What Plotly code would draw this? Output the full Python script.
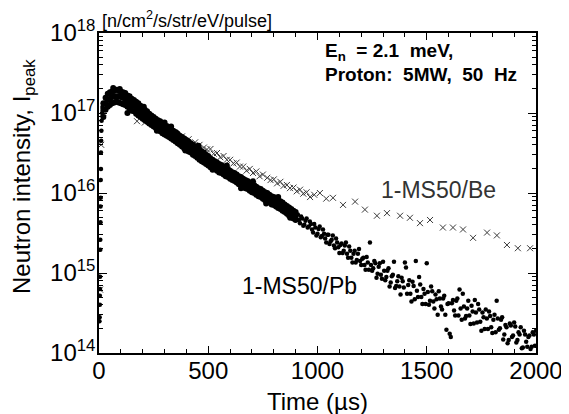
import plotly.graph_objects as go

# ---------------- data ----------------
# 1-MS50/Pb : rising edge
pb_edge_time = [2, 3, 4, 4, 5, 5, 6, 6, 7, 7, 8, 8, 9, 9, 10, 11, 12, 14, 16]
pb_edge = [2.5e14, 2.8e14, 4.0e14, 5.2e14, 6.3e14, 9.0e14, 1.95e15, 2.6e15, 4.3e15, 6.8e15,
           8.7e15, 1.45e16, 2.0e16, 3.2e16, 4.5e16, 6.0e16, 8.0e16, 1.0e17, 1.2e17]

# 1-MS50/Pb : dense band (upper edge, middle, lower edge of the band)
pb_band_time = [20, 30, 40, 50, 60, 70, 80, 90, 100, 110, 120, 130, 140, 150, 160, 170, 180, 190, 200,
                210, 220, 230, 240, 250, 260, 270, 280, 290, 300, 310, 320, 330, 340, 350, 360, 370, 380,
                390, 400, 410, 420, 430, 440, 450, 460, 470, 480, 490, 500, 510, 520, 530, 540, 550, 560,
                570, 580, 590, 600, 610, 620, 630, 640, 650, 660, 670, 680, 690, 700, 710, 720, 730, 740,
                750, 760, 770, 780, 790, 800, 810, 820, 830, 840, 850, 860, 870, 880, 890, 900]
pb_band_upper = [1.32e17, 1.55e17, 1.74e17, 1.82e17, 1.86e17, 1.91e17, 1.95e17, 1.91e17, 1.86e17, 1.82e17,
                 1.78e17, 1.66e17, 1.62e17, 1.51e17, 1.45e17, 1.38e17, 1.32e17, 1.23e17, 1.17e17,
                 1.10e17, 1.05e17, 9.8e16, 9.3e16, 8.9e16, 8.5e16, 8.1e16, 7.9e16, 7.4e16, 7.6e16,
                 6.9e16, 6.6e16, 6.3e16, 6.0e16, 5.8e16, 5.5e16, 5.2e16, 5.0e16, 4.8e16, 4.6e16,
                 4.4e16, 4.2e16, 4.0e16, 3.8e16, 3.6e16, 3.5e16, 3.3e16, 3.2e16, 3.0e16, 2.9e16,
                 2.7e16, 2.6e16, 2.5e16, 2.4e16, 2.3e16, 2.24e16, 2.14e16, 2.04e16, 2.0e16, 1.9e16,
                 1.82e16, 1.78e16, 1.70e16, 1.62e16, 1.58e16, 1.51e16, 1.45e16, 1.41e16, 1.35e16, 1.29e16,
                 1.26e16, 1.20e16, 1.15e16, 1.12e16, 1.07e16, 1.02e16, 1.0e16, 9.5e15, 9.1e15, 8.9e15,
                 8.5e15, 8.1e15, 7.9e15, 7.6e15, 7.2e15, 6.9e15, 6.6e15, 6.3e15, 6.0e15, 5.8e15]
pb_band_mid = [1.12e17, 1.32e17, 1.45e17, 1.51e17, 1.58e17, 1.62e17, 1.62e17, 1.62e17, 1.58e17, 1.55e17,
               1.48e17, 1.41e17, 1.35e17, 1.29e17, 1.23e17, 1.17e17, 1.12e17, 1.05e17, 1.0e17,
               9.3e16, 8.9e16, 8.5e16, 8.1e16, 7.8e16, 7.4e16, 7.1e16, 6.8e16, 6.5e16, 6.2e16,
               6.0e16, 5.8e16, 5.5e16, 5.2e16, 5.0e16, 4.8e16, 4.6e16, 4.4e16, 4.2e16, 4.0e16,
               3.8e16, 3.6e16, 3.5e16, 3.3e16, 3.16e16, 3.0e16, 2.9e16, 2.75e16, 2.6e16, 2.5e16,
               2.4e16, 2.34e16, 2.24e16, 2.14e16, 2.04e16, 2.0e16, 1.9e16, 1.82e16, 1.78e16, 1.7e16,
               1.62e16, 1.58e16, 1.51e16, 1.45e16, 1.41e16, 1.35e16, 1.29e16, 1.26e16, 1.2e16, 1.15e16,
               1.12e16, 1.07e16, 1.02e16, 1.0e16, 9.5e15, 9.1e15, 8.9e15, 8.5e15, 8.1e15, 7.9e15,
               7.6e15, 7.2e15, 7.1e15, 6.8e15, 6.5e15, 6.2e15, 5.9e15, 5.6e15, 5.4e15, 5.1e15]
pb_band_lower = [8.9e16, 1.10e17, 1.20e17, 1.26e17, 1.32e17, 1.35e17, 1.38e17, 1.35e17, 1.32e17, 1.29e17,
                 1.26e17, 1.20e17, 1.15e17, 1.07e17, 1.05e17, 9.8e16, 9.3e16, 8.9e16, 8.5e16,
                 8.1e16, 7.8e16, 7.4e16, 7.1e16, 6.8e16, 6.5e16, 6.2e16, 5.9e16, 5.6e16, 5.4e16,
                 5.2e16, 5.0e16, 4.8e16, 4.6e16, 4.4e16, 4.2e16, 4.0e16, 3.8e16, 3.6e16, 3.5e16,
                 3.3e16, 3.2e16, 3.0e16, 2.9e16, 2.75e16, 2.6e16, 2.5e16, 2.4e16, 2.3e16, 2.2e16,
                 2.1e16, 2.1e16, 2.0e16, 1.9e16, 1.8e16, 1.78e16, 1.70e16, 1.62e16, 1.58e16, 1.51e16,
                 1.45e16, 1.41e16, 1.35e16, 1.29e16, 1.26e16, 1.20e16, 1.15e16, 1.12e16, 1.07e16, 1.02e16,
                 1.0e16, 9.5e15, 9.1e15, 8.9e15, 8.5e15, 8.1e15, 7.9e15, 7.6e15, 7.2e15, 7.1e15,
                 6.8e15, 6.5e15, 6.3e15, 6.0e15, 5.8e15, 5.5e15, 5.2e15, 5.0e15, 4.8e15, 4.6e15]
# ragged points just outside the band edges
pb_band_extra_time = [65, 95, 130, 205, 265, 330, 395, 455, 520, 585, 650, 705, 765, 820, 875]
pb_band_extra = [2.05e17, 2.0e17, 1.0e17, 1.2e17, 6.0e16, 6.8e16, 3.4e16, 3.9e16, 1.95e16, 2.2e16,
                 1.15e16, 1.4e16, 7.4e15, 8.9e15, 4.9e15]

# 1-MS50/Pb : scattered tail
pb_tail_time_a = [910, 920, 930, 940, 950, 960, 970, 980, 990, 1000,
                  1010, 1020, 1030, 1040, 1050, 1060, 1070, 1080, 1090, 1100,
                  1110, 1120, 1130, 1140, 1150, 1160, 1170, 1180, 1190, 1200,
                  1210, 1220, 1230, 1240, 1250, 1260, 1270, 1280, 1290, 1300,
                  1310, 1320, 1330, 1340, 1350, 1360, 1370, 1380, 1390, 1400,
                  1410, 1420, 1430, 1440, 1450, 1460, 1470, 1480, 1490, 1500,
                  1510, 1520, 1530, 1540, 1550, 1560, 1570, 1580, 1590, 1600,
                  1610, 1620, 1630, 1640, 1650, 1660, 1670, 1680, 1690, 1700,
                  1710, 1720, 1730, 1740, 1750, 1760, 1770, 1780, 1790, 1800,
                  1810, 1820, 1830, 1840, 1850, 1860, 1870, 1880, 1890, 1900,
                  1910, 1920, 1930, 1940, 1950, 1960, 1970, 1980, 1990, 2000]
pb_tail_a = [5.4e15, 4.2e15, 4.8e15, 4.0e15, 4.8e15, 3.8e15, 4.1e15, 3.2e15, 3.7e15, 3.1e15,
             3.8e15, 2.9e15, 3.1e15, 2.4e15, 3.0e15, 2.5e15, 2.95e15, 2.04e15, 2.4e15, 1.78e15,
             2.34e15, 1.9e15, 2.4e15, 1.55e15, 1.9e15, 1.35e15, 1.9e15, 1.45e15, 2.0e15, 1.26e15,
             1.55e15, 1.1e15, 1.35e15, 2.4e15, 1.07e15, 1.41e15, 8.7e14, 1.2e15, 9.5e14, 1.38e15,
             8.1e14, 1.07e15, 6.8e14, 9.1e14, 1.38e15, 6.9e14, 9.1e14, 5.4e14, 7.9e14, 1.35e15,
             5.5e14, 8.1e14, 4.4e14, 6.9e14, 1.41e15, 5.0e14, 7.2e14, 4.1e14, 5.5e14, 1.32e15,
             4.0e14, 6.8e14, 4.4e14, 5.4e14, 3.0e14, 4.8e14, 3.5e14, 5.2e14, 1.95e14, 4.2e14,
             1.58e14, 4.6e14, 2.95e14, 4.8e14, 6.2e14, 2.6e14, 3.8e14, 2.9e14, 4.5e14, 2.3e14,
             3.3e14, 4.6e14, 2.4e14, 3.5e14, 1.9e14, 2.8e14, 3.5e14, 2.0e14, 2.9e14, 1.78e14,
             3.0e14, 4.5e14, 1.95e14, 2.6e14, 1.48e14, 2.24e14, 1.32e14, 2.34e14, 1.58e14, 2.4e14,
             1.35e14, 1.82e14, 2.1e14, 1.17e14, 1.7e14, 1.2e14, 1.66e14, 1.2e14, 1.7e14, 1.9e14]

pb_tail_time_b = [915, 925, 935, 945, 955, 965, 975, 985, 995, 1005,
                  1015, 1025, 1035, 1045, 1055, 1065, 1075, 1085, 1095, 1105,
                  1115, 1125, 1135, 1145, 1155, 1165, 1175, 1185, 1195,
                  1205, 1215, 1225, 1235, 1245, 1255, 1265, 1275, 1285, 1295,
                  1305, 1315, 1325, 1335, 1345, 1355, 1365, 1375, 1385, 1395,
                  1405, 1415, 1425, 1435, 1445, 1455, 1465, 1475, 1485, 1495,
                  1505, 1515, 1525, 1535, 1545, 1555, 1565, 1575, 1585, 1595,
                  1605, 1615, 1625, 1635, 1645, 1655, 1665, 1675, 1685, 1695,
                  1705, 1715, 1725, 1735, 1745, 1755, 1765, 1775, 1785, 1795,
                  1805, 1815, 1825, 1835, 1845, 1855, 1865, 1875, 1885, 1895,
                  1905, 1915, 1925, 1935, 1945, 1955, 1965, 1975, 1985, 1995]
pb_tail_b = [4.6e15, 5.1e15, 3.9e15, 4.5e15, 3.7e15, 4.4e15, 3.5e15, 4.1e15, 2.95e15, 3.55e15,
             2.8e15, 3.5e15, 2.7e15, 3.0e15, 2.3e15, 2.6e15, 2.2e15, 2.7e15, 2.1e15, 2.24e15,
             1.78e15, 2.2e15, 1.74e15, 2.14e15, 1.55e15, 1.74e15, 1.35e15, 1.74e15, 1.41e15,
             1.51e15, 1.26e15, 1.58e15, 1.1e15, 1.26e15, 1.15e15, 1.32e15, 9.8e14, 1.32e15, 8.5e14,
             1.07e15, 8.9e14, 1.15e15, 7.6e14, 9.5e14, 6.5e14, 7.9e14, 6.8e14, 8.7e14, 6.6e14,
             1.17e15, 7.1e14, 5.5e14, 7.8e14, 4.7e14, 6.0e14, 8.9e14, 5.0e14, 6.3e14, 4.1e14,
             5.8e14, 4.5e14, 5.9e14, 3.6e14, 4.7e14, 5.9e14, 3.8e14, 4.8e14, 3.0e14, 4.1e14,
             1.74e14, 4.2e14, 3.4e14, 4.5e14, 2.95e14, 3.6e14, 5.5e14, 2.7e14, 3.6e14, 2.95e14,
             3.9e14, 2.34e14, 3.2e14, 4.1e14, 2.45e14, 3.2e14, 2.0e14, 2.7e14, 3.3e14, 2.1e14,
             2.6e14, 1.82e14, 2.7e14, 2.04e14, 2.8e14, 1.7e14, 2.1e14, 1.45e14, 2.2e14, 1.66e14,
             2.14e14, 1.45e14, 1.7e14, 1.15e14, 1.9e14, 1.38e14, 1.58e14, 1.12e14, 1.82e14, 1.23e14]

# 1-MS50/Be (crosses)
be_time = [5, 10, 20, 40, 60, 80, 100, 120, 140, 160, 174, 190, 210, 230, 260, 290, 320, 350, 380,
           410, 440, 460, 480, 494, 510, 525, 540, 555, 570, 585, 600, 615, 630, 645, 660, 675, 690,
           705, 720, 735, 750, 770, 785, 800, 815, 830, 845, 860, 874, 890, 905, 920, 935, 950, 966,
           985, 1011, 1040, 1071, 1117, 1172, 1217, 1272, 1318, 1378, 1423, 1469, 1515, 1574, 1620,
           1666, 1712, 1776, 1821, 1867, 1917, 1973]
be_intensity = [6.2e14, 4.0e16, 1.0e17, 1.41e17, 1.58e17, 1.66e17, 1.58e17, 1.48e17, 1.32e17, 1.2e17,
                7.9e16, 1.07e17, 7.6e16, 9.1e16, 7.9e16, 7.1e16, 6.3e16, 5.6e16, 5.1e16,
                4.7e16, 4.3e16, 4.0e16, 3.7e16, 3.5e16, 3.55e16, 3.1e16, 3.16e16, 2.8e16, 2.9e16, 2.6e16,
                2.6e16, 2.34e16, 2.4e16, 2.14e16, 2.14e16, 1.9e16, 2.0e16,
                1.78e16, 1.86e16, 1.62e16, 1.7e16, 1.55e16, 1.45e16, 1.48e16, 1.32e16, 1.38e16, 1.23e16,
                1.26e16, 1.15e16, 1.17e16, 1.05e16, 1.1e16, 9.8e15, 1.02e16, 8.9e15,
                9.5e15, 1.0e16, 8.5e15, 8.7e15, 7.1e15, 7.8e15, 6.2e15, 5.2e15, 5.6e15, 5.2e15, 4.9e15,
                4.2e15, 4.6e15, 3.7e15, 3.7e15, 3.5e15, 2.75e15, 3.2e15, 2.95e15, 2.24e15, 2.04e15, 2.04e15]

x_tick_vals = [0, 500, 1000, 1500, 2000]
y_tick_vals = [1e14, 1e15, 1e16, 1e17, 1e18]
y_tick_text = ["10<sup>14</sup>", "10<sup>15</sup>", "10<sup>16</sup>", "10<sup>17</sup>", "10<sup>18</sup>"]

FONT = "Liberation Sans, Arial, Helvetica, sans-serif"

fig = go.Figure()

fig.add_trace(go.Scatter(
    x=be_time, y=be_intensity, mode="markers", name="1-MS50/Be",
    marker=dict(symbol="x-thin-open", size=6, color="#3a3a3a", line=dict(width=1, color="#3a3a3a")),
))
fig.add_trace(go.Scatter(
    x=pb_band_time * 3 + pb_band_extra_time,
    y=pb_band_upper + pb_band_mid + pb_band_lower + pb_band_extra,
    mode="markers", name="Pb band",
    marker=dict(symbol="circle", size=6, color="black", line=dict(width=0)),
))
fig.add_trace(go.Scatter(
    x=pb_edge_time + pb_tail_time_a + pb_tail_time_b, y=pb_edge + pb_tail_a + pb_tail_b,
    mode="markers", name="Pb",
    marker=dict(symbol="circle", size=4.5, color="black", line=dict(width=0)),
))

minor_y = [k * 10 ** e for e in range(14, 18) for k in range(2, 10)]

# the page body keeps an 8 px margin, so the figure is drawn 8 px smaller
fig.update_layout(
    width=561, height=406,
    margin=dict(l=91, r=33, t=25, b=61),
    paper_bgcolor="white", plot_bgcolor="white",
    showlegend=False,
    font=dict(family=FONT, color="black"),
    xaxis=dict(
        range=[0, 2000], tickvals=x_tick_vals, ticks="inside", ticklen=7, tickwidth=1.3,
        tickcolor="black", showline=True, linecolor="black", linewidth=1.5, mirror="allticks",
        showgrid=False, zeroline=False, tickfont=dict(size=24, family=FONT), automargin=False,
        ticklabelstandoff=-5,
        minor=dict(dtick=100, ticks="inside", ticklen=4, tickwidth=1, tickcolor="black", showgrid=False),
    ),
    yaxis=dict(
        type="log", range=[14, 18], tickvals=y_tick_vals, ticktext=y_tick_text,
        ticks="inside", ticklen=8, tickwidth=1.3, tickcolor="black",
        showline=True, linecolor="black", linewidth=1.5, mirror="allticks",
        showgrid=False, zeroline=False, tickfont=dict(size=24, family=FONT), automargin=False,
        ticklabelstandoff=-3,
        minor=dict(tickvals=minor_y, ticks="inside", ticklen=4, tickwidth=1, tickcolor="black", showgrid=False),
    ),
)

ann = [
    dict(text="Time (µs)", x=0.499, y=-0.153, xref="paper", yref="paper",
         xanchor="center", yanchor="middle", showarrow=False, font=dict(size=24)),
    dict(text="Neutron intensity, I<sub>peak</sub>", x=-0.174, y=0.553, xref="paper", yref="paper",
         xanchor="center", yanchor="middle", textangle=-90, showarrow=False, font=dict(size=24)),
    dict(text="[n/cm<sup>2</sup>/s/str/eV/pulse]", x=0.002, y=1.0, xref="paper", yref="paper",
         xanchor="left", yanchor="bottom", showarrow=False, font=dict(size=18)),
    dict(text="<b>E<sub>n</sub>\u00a0 =\u00a02.1\u00a0 meV,</b>", x=0.513, y=0.94, xref="paper", yref="paper",
         xanchor="left", yanchor="middle", showarrow=False, font=dict(size=19)),
    dict(text="<b>Proton:\u00a0 5MW,\u00a0 50\u00a0 Hz</b>", x=0.513, y=0.869, xref="paper", yref="paper",
         xanchor="left", yanchor="middle", showarrow=False, font=dict(size=19)),
    dict(text="1-MS50/Be", x=0.776, y=0.509, xref="paper", yref="paper",
         xanchor="center", yanchor="middle", showarrow=False, font=dict(size=23, color="#333333")),
    dict(text="1-MS50/Pb", x=0.458, y=0.209, xref="paper", yref="paper",
         xanchor="center", yanchor="middle", showarrow=False, font=dict(size=23)),
]
fig.update_layout(annotations=ann)

fig.write_html("out.html")
